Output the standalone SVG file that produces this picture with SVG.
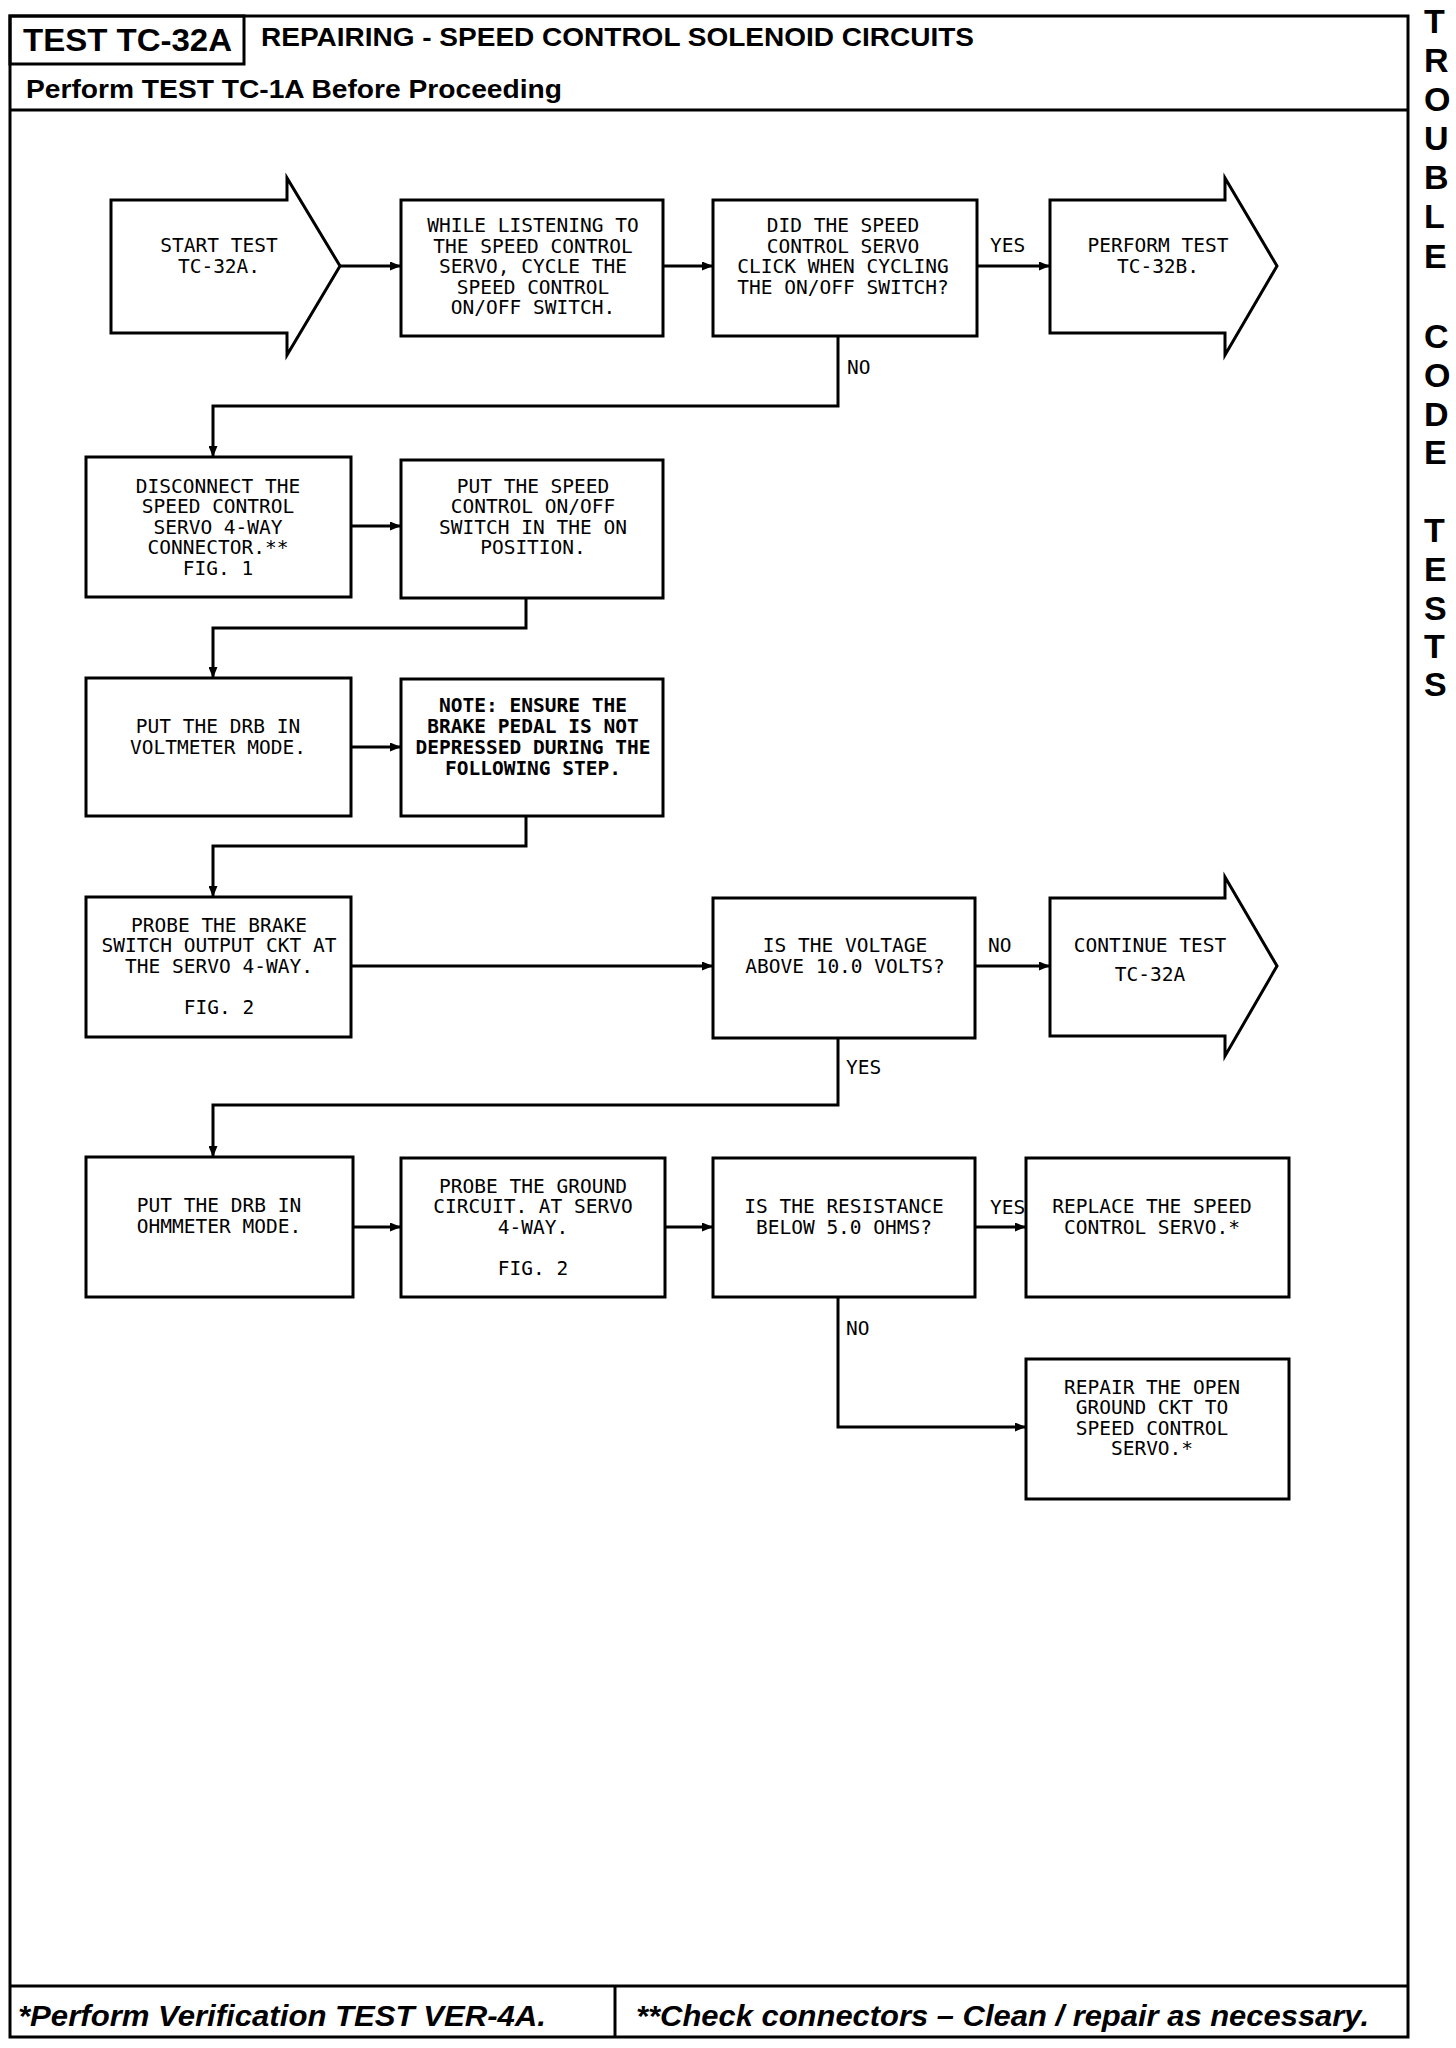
<svg xmlns="http://www.w3.org/2000/svg" width="1456" height="2048" viewBox="0 0 1456 2048">
<defs>
<style>
.frame{fill:none;stroke:#000;stroke-width:3}
.box{fill:#fff;stroke:#000;stroke-width:3}
.conn{fill:none;stroke:#000;stroke-width:3}
.t{font-family:"DejaVu Sans Mono","Liberation Mono",monospace;font-size:19.5px;fill:#000;text-anchor:middle}
.tb{font-family:"DejaVu Sans Mono","Liberation Mono",monospace;font-size:19.5px;font-weight:bold;fill:#000;text-anchor:middle}
.lbl{font-family:"DejaVu Sans Mono","Liberation Mono",monospace;font-size:19.5px;fill:#000}
.hdr{font-family:"Liberation Sans",Arial,sans-serif;font-weight:bold;fill:#000}
.ftr{font-family:"Liberation Sans",Arial,sans-serif;font-weight:bold;font-style:italic;font-size:29px;fill:#000}
.side{font-family:"Liberation Sans",Arial,sans-serif;font-weight:bold;font-size:34px;fill:#000}
</style>
<marker id="ah" markerUnits="userSpaceOnUse" markerWidth="11" markerHeight="9" refX="11" refY="4.5" orient="auto">
<path d="M0,0 L11,4.5 L0,9 z" fill="#000"/>
</marker>
</defs>
<rect width="1456" height="2048" fill="#fff"/>

<g id="frame">
<rect class="frame" x="10" y="16" width="1398" height="2021"/>
<rect class="frame" x="10" y="16" width="234" height="48"/>
<line class="frame" x1="10" y1="110" x2="1408" y2="110"/>
<line class="frame" x1="10" y1="1986" x2="1408" y2="1986"/>
<line class="frame" x1="615" y1="1986" x2="615" y2="2037"/>
<text class="hdr" x="23" y="51" font-size="31" textLength="209" lengthAdjust="spacingAndGlyphs">TEST TC-32A</text>
<text class="hdr" x="261" y="46" font-size="25" textLength="713" lengthAdjust="spacingAndGlyphs">REPAIRING - SPEED CONTROL SOLENOID CIRCUITS</text>
<text class="hdr" x="26" y="98" font-size="26" textLength="536" lengthAdjust="spacingAndGlyphs">Perform TEST TC-1A Before Proceeding</text>
<text class="ftr" x="18" y="2026" textLength="528" lengthAdjust="spacingAndGlyphs">*Perform Verification TEST VER-4A.</text>
<text class="ftr" x="636" y="2026" textLength="733" lengthAdjust="spacingAndGlyphs">**Check connectors – Clean / repair as necessary.</text>
</g>

<g id="side-title">
<text class="side" x="1424" y="33">T</text>
<text class="side" x="1424" y="72">R</text>
<text class="side" x="1424" y="111">O</text>
<text class="side" x="1424" y="150">U</text>
<text class="side" x="1424" y="189">B</text>
<text class="side" x="1424" y="228">L</text>
<text class="side" x="1424" y="268">E</text>
<text class="side" x="1424" y="348">C</text>
<text class="side" x="1424" y="387">O</text>
<text class="side" x="1424" y="426">D</text>
<text class="side" x="1424" y="464">E</text>
<text class="side" x="1424" y="542">T</text>
<text class="side" x="1424" y="581">E</text>
<text class="side" x="1424" y="620">S</text>
<text class="side" x="1424" y="658">T</text>
<text class="side" x="1424" y="696">S</text>
</g>

<g id="connectors">
<path class="conn" d="M340,266 H401" marker-end="url(#ah)"/>
<path class="conn" d="M663,266 H713" marker-end="url(#ah)"/>
<path class="conn" d="M977,266 H1050" marker-end="url(#ah)"/>
<path class="conn" d="M838,336 V406 H213 V457" marker-end="url(#ah)"/>
<path class="conn" d="M351,526 H401" marker-end="url(#ah)"/>
<path class="conn" d="M526,598 V628 H213 V678" marker-end="url(#ah)"/>
<path class="conn" d="M351,747 H401" marker-end="url(#ah)"/>
<path class="conn" d="M526,816 V846 H213 V897" marker-end="url(#ah)"/>
<path class="conn" d="M351,966 H713" marker-end="url(#ah)"/>
<path class="conn" d="M975,966 H1050" marker-end="url(#ah)"/>
<path class="conn" d="M838,1038 V1105 H213 V1157" marker-end="url(#ah)"/>
<path class="conn" d="M353,1227 H401" marker-end="url(#ah)"/>
<path class="conn" d="M665,1227 H713" marker-end="url(#ah)"/>
<path class="conn" d="M975,1227 H1026" marker-end="url(#ah)"/>
<path class="conn" d="M838,1297 V1427 H1026" marker-end="url(#ah)"/>
<text class="lbl" x="990" y="252">YES</text>
<text class="lbl" x="847" y="374">NO</text>
<text class="lbl" x="988" y="952">NO</text>
<text class="lbl" x="846" y="1074">YES</text>
<text class="lbl" x="990" y="1214">YES</text>
<text class="lbl" x="846" y="1335">NO</text>
</g>

<g id="start">
<polygon class="box" points="111,200 287,200 287,178 340,266 287,355 287,333 111,333"/>
<text class="t" x="219" y="252">START TEST</text>
<text class="t" x="219" y="272.5">TC-32A.</text>
</g>

<g id="listen">
<rect class="box" x="401" y="200" width="262" height="136"/>
<text class="t" x="533" y="232">WHILE LISTENING TO</text>
<text class="t" x="533" y="252.5">THE SPEED CONTROL</text>
<text class="t" x="533" y="273">SERVO, CYCLE THE</text>
<text class="t" x="533" y="293.5">SPEED CONTROL</text>
<text class="t" x="533" y="314">ON/OFF SWITCH.</text>
</g>

<g id="click-q">
<rect class="box" x="713" y="200" width="264" height="136"/>
<text class="t" x="843" y="232">DID THE SPEED</text>
<text class="t" x="843" y="252.5">CONTROL SERVO</text>
<text class="t" x="843" y="273">CLICK WHEN CYCLING</text>
<text class="t" x="843" y="293.5">THE ON/OFF SWITCH?</text>
</g>

<g id="perform-32b">
<polygon class="box" points="1050,200 1225,200 1225,178 1277,266 1225,355 1225,333 1050,333"/>
<text class="t" x="1158" y="252">PERFORM TEST</text>
<text class="t" x="1158" y="272.5">TC-32B.</text>
</g>

<g id="disconnect">
<rect class="box" x="86" y="457" width="265" height="140"/>
<text class="t" x="218" y="492.5">DISCONNECT THE</text>
<text class="t" x="218" y="513">SPEED CONTROL</text>
<text class="t" x="218" y="533.5">SERVO 4-WAY</text>
<text class="t" x="218" y="554">CONNECTOR.**</text>
<text class="t" x="218" y="574.5">FIG. 1</text>
</g>

<g id="switch-on">
<rect class="box" x="401" y="460" width="262" height="138"/>
<text class="t" x="533" y="492.5">PUT THE SPEED</text>
<text class="t" x="533" y="513">CONTROL ON/OFF</text>
<text class="t" x="533" y="533.5">SWITCH IN THE ON</text>
<text class="t" x="533" y="554">POSITION.</text>
</g>

<g id="voltmeter">
<rect class="box" x="86" y="678" width="265" height="138"/>
<text class="t" x="218" y="733">PUT THE DRB IN</text>
<text class="t" x="218" y="753.5">VOLTMETER MODE.</text>
</g>

<g id="note">
<rect class="box" x="401" y="679" width="262" height="137"/>
<text class="tb" x="533" y="712">NOTE:  ENSURE THE</text>
<text class="tb" x="533" y="733">BRAKE PEDAL IS NOT</text>
<text class="tb" x="533" y="753.5">DEPRESSED DURING THE</text>
<text class="tb" x="533" y="774.5">FOLLOWING STEP.</text>
</g>

<g id="probe-brake">
<rect class="box" x="86" y="897" width="265" height="140"/>
<text class="t" x="219" y="931.5">PROBE THE BRAKE</text>
<text class="t" x="219" y="952">SWITCH OUTPUT CKT AT</text>
<text class="t" x="219" y="972.5">THE SERVO 4-WAY.</text>
<text class="t" x="219" y="1013.5">FIG. 2</text>
</g>

<g id="voltage-q">
<rect class="box" x="713" y="898" width="262" height="140"/>
<text class="t" x="845" y="952">IS THE VOLTAGE</text>
<text class="t" x="845" y="973">ABOVE 10.0 VOLTS?</text>
</g>

<g id="continue-32a">
<polygon class="box" points="1050,898 1225,898 1225,877 1277,966 1225,1056 1225,1036 1050,1036"/>
<text class="t" x="1150" y="952">CONTINUE TEST</text>
<text class="t" x="1150" y="981">TC-32A</text>
</g>

<g id="ohmmeter">
<rect class="box" x="86" y="1157" width="267" height="140"/>
<text class="t" x="219" y="1212">PUT THE DRB IN</text>
<text class="t" x="219" y="1233">OHMMETER MODE.</text>
</g>

<g id="probe-ground">
<rect class="box" x="401" y="1158" width="264" height="139"/>
<text class="t" x="533" y="1192.5">PROBE THE GROUND</text>
<text class="t" x="533" y="1213">CIRCUIT. AT SERVO</text>
<text class="t" x="533" y="1233.5">4-WAY.</text>
<text class="t" x="533" y="1274.5">FIG. 2</text>
</g>

<g id="resistance-q">
<rect class="box" x="713" y="1158" width="262" height="139"/>
<text class="t" x="844" y="1213">IS THE RESISTANCE</text>
<text class="t" x="844" y="1233.5">BELOW 5.0 OHMS?</text>
</g>

<g id="replace-servo">
<rect class="box" x="1026" y="1158" width="263" height="139"/>
<text class="t" x="1152" y="1213">REPLACE THE SPEED</text>
<text class="t" x="1152" y="1233.5">CONTROL SERVO.*</text>
</g>

<g id="repair-ground">
<rect class="box" x="1026" y="1359" width="263" height="140"/>
<text class="t" x="1152" y="1393.5">REPAIR THE OPEN</text>
<text class="t" x="1152" y="1414">GROUND CKT TO</text>
<text class="t" x="1152" y="1434.5">SPEED CONTROL</text>
<text class="t" x="1152" y="1455">SERVO.*</text>
</g>
</svg>
